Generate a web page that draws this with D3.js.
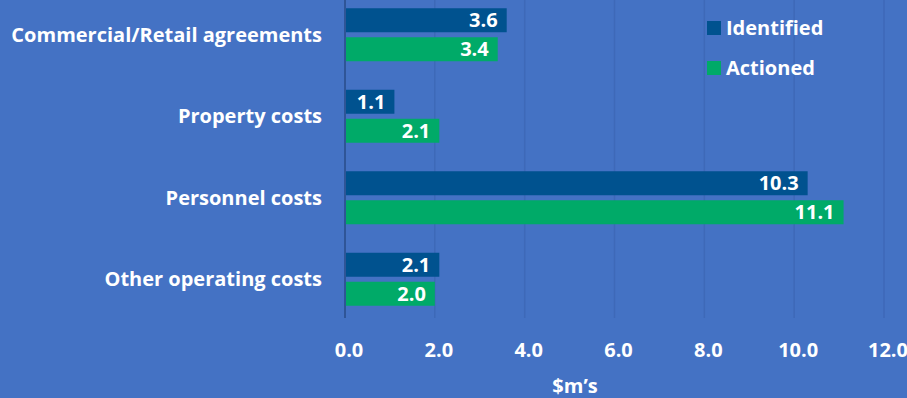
<!DOCTYPE html>
<html>
<head>
<meta charset="utf-8">
<script src="https://cdn.jsdelivr.net/npm/d3@7"></script>
<style>
  body { margin: 0; background: #4472C4; }
  svg text { font-family: "Open Sans", Lato, sans-serif; font-weight: bold; fill: #fff; }
</style>
</head>
<body>
<div id="chart"></div>
<script>
// chart data
var categories = ["Commercial/Retail agreements", "Property costs", "Personnel costs", "Other operating costs"];
var identified = [3.6, 1.1, 10.3, 2.1];
var actioned = [3.4, 2.1, 11.1, 2.0];
var seriesNames = ["Identified", "Actioned"];
var seriesColors = ["#00528F", "#00AA68"];
var xTicks = [0, 2, 4, 6, 8, 10, 12];

var width = 907, height = 398;
var fontSize = "20px";

var svg = d3.select("#chart").append("svg")
    .attr("width", width)
    .attr("height", height);

svg.append("rect")
    .attr("width", width)
    .attr("height", height)
    .style("fill", "#4472C4");

var x = d3.scaleLinear().domain([0, 12]).range([345, 884]);
var y = d3.scaleBand().domain(categories).range([-6, 320]);

// gridlines
svg.selectAll(".grid")
    .data(xTicks.slice(1))
    .enter()
    .append("line")
    .attr("x1", function(d) { return x(d); })
    .attr("x2", function(d) { return x(d); })
    .attr("y1", 0)
    .attr("y2", 318)
    .style("stroke", "#3E69B8")
    .style("stroke-width", 1.5);

// bars
var rows = categories.map(function(c, i) {
    return {cat: c, vals: [identified[i], actioned[i]]};
});

var barH = 24, barGap = 5;

var groups = svg.selectAll(".cat")
    .data(rows)
    .enter()
    .append("g")
    .attr("transform", function(d) {
        return "translate(0," + (y(d.cat) + y.bandwidth() / 2) + ")";
    });

groups.selectAll("rect")
    .data(function(d) { return d.vals; })
    .enter()
    .append("rect")
    .attr("x", x(0))
    .attr("y", function(d, i) { return i === 0 ? -barH - barGap / 2 : barGap / 2; })
    .attr("width", function(d) { return x(d) - x(0); })
    .attr("height", barH)
    .style("fill", function(d, i) { return seriesColors[i]; });

groups.selectAll(".val")
    .data(function(d) { return d.vals; })
    .enter()
    .append("text")
    .attr("x", function(d) { return x(d) - 9; })
    .attr("y", function(d, i) { return i === 0 ? -barH / 2 - barGap / 2 : barH / 2 + barGap / 2; })
    .attr("dy", "0.35em")
    .attr("text-anchor", "end")
    .style("font-size", fontSize)
    .text(function(d) { return d3.format(".1f")(d); });

// axis line
svg.append("line")
    .attr("x1", x(0))
    .attr("x2", x(0))
    .attr("y1", 0)
    .attr("y2", 318)
    .style("stroke", "#2F5597")
    .style("stroke-width", 2);

// category labels
svg.selectAll(".catLabel")
    .data(categories)
    .enter()
    .append("text")
    .attr("x", 322)
    .attr("y", function(d) { return y(d) + y.bandwidth() / 2; })
    .attr("dy", "0.35em")
    .attr("text-anchor", "end")
    .style("font-size", fontSize)
    .text(function(d) { return d; });

// x tick labels
svg.selectAll(".tick")
    .data(xTicks)
    .enter()
    .append("text")
    .attr("x", function(d) { return x(d) + 4; })
    .attr("y", 350)
    .attr("dy", "0.35em")
    .attr("text-anchor", "middle")
    .style("font-size", fontSize)
    .text(function(d) { return d3.format(".1f")(d); });

// axis title
svg.append("text")
    .attr("x", 575)
    .attr("y", 386)
    .attr("dy", "0.35em")
    .attr("text-anchor", "middle")
    .style("font-size", fontSize)
    .text("$m\u2019s");

// legend
var legend = svg.selectAll(".legend")
    .data(seriesNames)
    .enter()
    .append("g")
    .attr("transform", function(d, i) { return "translate(707," + (28 + i * 40) + ")"; });

legend.append("rect")
    .attr("x", 0)
    .attr("y", -7)
    .attr("width", 14)
    .attr("height", 14)
    .style("fill", function(d, i) { return seriesColors[i]; });

legend.append("text")
    .attr("x", 19)
    .attr("y", 0)
    .attr("dy", "0.35em")
    .style("font-size", fontSize)
    .text(function(d) { return d; });
</script>
</body>
</html>
